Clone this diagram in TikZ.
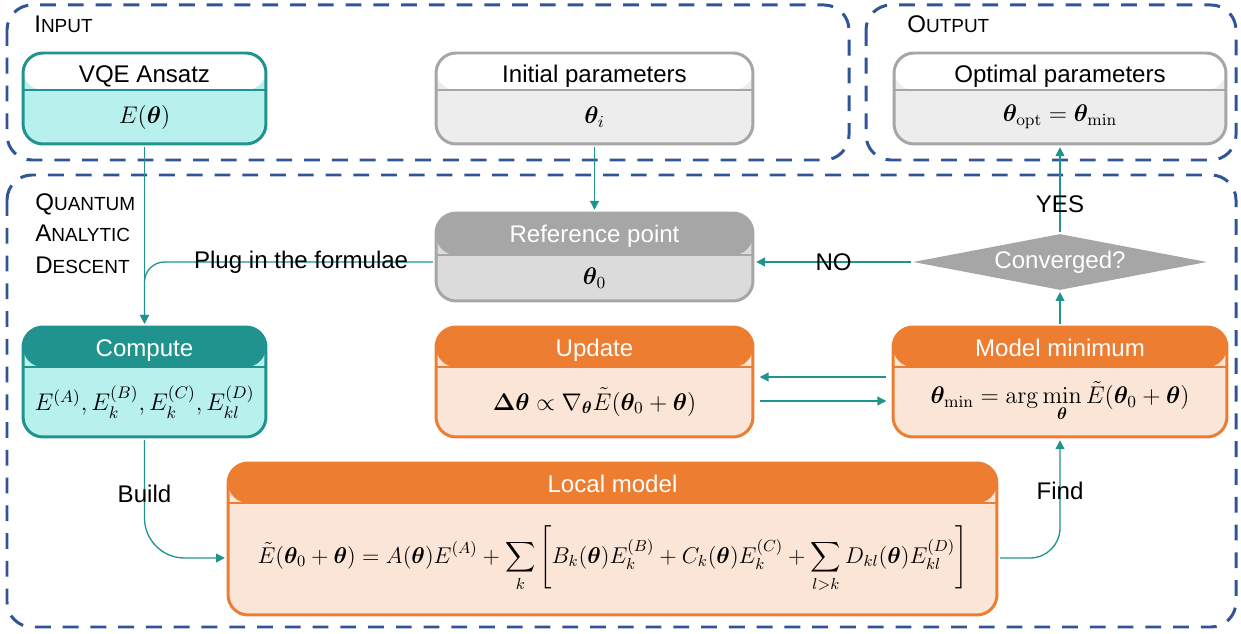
\RequirePackage{fix-cm}
\documentclass[tikz,border=0pt]{standalone}
\usepackage{amsmath,bm}
\usepackage[no-math]{fontspec}
\setmainfont{Liberation Sans}
\usetikzlibrary{arrows.meta,shapes.geometric,positioning}

\definecolor{qblue}{HTML}{2F5597}
\definecolor{qteal}{HTML}{20938F}
\definecolor{qcyan}{HTML}{B8F0EE}
\definecolor{qgray}{HTML}{A6A6A6}
\definecolor{qlight}{HTML}{EDEDED}
\definecolor{qmid}{HTML}{DBDBDB}
\definecolor{qorange}{HTML}{ED7D31}
\definecolor{qpeach}{HTML}{FBE5D6}

\newcommand{\fsc}[2]{#1{\fontsize{10.8}{12}\selectfont#2}}

\tikzset{
  group/.style={draw=qblue, line width=1.7pt, dash pattern=on 9pt off 6.8pt, rounded corners=0.5cm},
  stage/.style n args={4}{rectangle, rounded corners=0.4cm, draw=#1, line width=1.7pt, fill=#3, inner sep=0pt,
    path picture={\fill[#2] (path picture bounding box.north west) rectangle ([yshift=-#4]path picture bounding box.north east);
      \draw[#1, line width=1.7pt] ([yshift=-#4]path picture bounding box.north west) -- ([yshift=-#4]path picture bounding box.north east);}},
  title/.style={text=#1, anchor=base},
  lbl/.style={text=black, inner sep=1pt},
  conn/.style={qteal, line width=0.75pt, -{Triangle[length=5pt,width=5pt]}, shorten >=1pt, shorten <=1pt},
}

\begin{document}
\begin{tikzpicture}[x=0.02cm, y=-0.02cm, every node/.style={font=\fontsize{13.7}{18}\selectfont}]
  \useasboundingbox (0,0) rectangle (1241,634);

  % Groups
  \draw[group] (7,5) rectangle (849,160);
  \draw[group] (866,5) rectangle (1236,160);
  \draw[group] (7,175) rectangle (1236,627);
  \node[anchor=base west, inner sep=0pt] (inT) at (34,33) {\fsc{I}{NPUT}};
  \node[anchor=base west, inner sep=0pt] (outT) at (907,33) {\fsc{O}{UTPUT}};
  \node[anchor=north west, inner sep=0pt, align=left] (qadT) at (35,193) {\fsc{Q}{UANTUM}\\ \fsc{A}{NALYTIC}\\ \fsc{D}{ESCENT}};

  % Input
  \node[stage={qteal}{white}{qcyan}{0.74cm}, minimum width=4.86cm, minimum height=1.82cm] (vqe) at (144.5,98.5) {};
  \node[title=black] (vqeT) at (144.5,83) {VQE Ansatz};
  \node (vqeB) at (144.5,117) {$E(\bm{\theta})$};

  \node[stage={qgray}{white}{qlight}{0.74cm}, minimum width=6.34cm, minimum height=1.82cm] (init) at (594.5,98.5) {};
  \node[title=black] (initT) at (594.5,83) {Initial parameters};
  \node (initB) at (594.5,117) {$\bm{\theta}_i$};

  % Output
  \node[stage={qgray}{white}{qlight}{0.74cm}, minimum width=6.64cm, minimum height=1.82cm] (opt) at (1060,98.5) {};
  \node[title=black] (optT) at (1060,83) {Optimal parameters};
  \node (optB) at (1060,117) {$\bm{\theta}_{\mathrm{opt}} = \bm{\theta}_{\min}$};

  % Quantum analytic descent
  \node[stage={qgray}{qgray}{qmid}{0.84cm}, minimum width=6.34cm, minimum height=1.76cm] (ref) at (594.5,257) {};
  \node[title=white] (refT) at (594.5,243) {Reference point};
  \node (refB) at (594.5,278) {$\bm{\theta}_0$};

  \node[diamond, aspect=5.25, fill=qgray, text=white, inner sep=0pt, minimum width=5.88cm, minimum height=1.12cm] (conv) at (1060,262) {Converged?};

  \node[stage={qteal}{qteal}{qcyan}{0.8cm}, minimum width=4.86cm, minimum height=2.2cm] (comp) at (144.5,382) {};
  \node[title=white] (compT) at (144.5,357) {Compute};
  \node (compB) at (144.5,402) {$E^{(A)}, E_k^{(B)}, E_k^{(C)}, E_{kl}^{(D)}$};

  \node[stage={qorange}{qorange}{qpeach}{0.8cm}, minimum width=6.34cm, minimum height=2.2cm] (upd) at (594.5,382) {};
  \node[title=white] (updT) at (594.5,357) {Update};
  \node (updB) at (594.5,402) {$\bm{\Delta\theta} \propto \nabla_{\bm{\theta}}\tilde{E}(\bm{\theta}_0+\bm{\theta})$};

  \node[stage={qorange}{qorange}{qpeach}{0.8cm}, minimum width=6.68cm, minimum height=2.2cm] (mmin) at (1060,382) {};
  \node[title=white] (mminT) at (1060,357) {Model minimum};
  \node (mminB) at (1060,402) {$\displaystyle \bm{\theta}_{\min} = \arg\min_{\bm{\theta}} \tilde{E}(\bm{\theta}_0+\bm{\theta})$};

  \node[stage={qorange}{qorange}{qpeach}{0.8cm}, minimum width=15.38cm, minimum height=3.04cm] (local) at (612.5,539) {};
  \node[title=white] (localT) at (612.5,493) {Local model};
  \node[font=\fontsize{13}{16}\selectfont] (localB) at (612.5,559) {$\displaystyle \tilde{E}(\bm{\theta}_0+\bm{\theta}) = A(\bm{\theta})E^{(A)} + \sum_k \left[ B_k(\bm{\theta})E_k^{(B)} + C_k(\bm{\theta})E_k^{(C)} + \sum_{l>k} D_{kl}(\bm{\theta})E_{kl}^{(D)} \right]$};

  % Connectors
  \draw[conn] (vqe.south) -- (comp.north);
  \draw[conn, rounded corners=0.4cm] (ref.west |- conv.west) -| node[lbl, pos=0.23] (plugL) {Plug in the formulae} (comp.north);
  \draw[conn] (init.south) -- (ref.north);
  \draw[conn] (conv.west) -- node[lbl] (noL) {NO} (ref.east |- conv.west);
  \draw[conn] (conv.north) -- node[lbl, pos=0.33] (yesL) {YES} (opt.south);
  \draw[conn] (mmin.north) -- (conv.south);
  \draw[conn, shorten >=3pt, shorten <=3pt] ([yshift=0.1cm]mmin.west) -- ([yshift=0.1cm]upd.east);
  \draw[conn, shorten >=3pt, shorten <=3pt] ([yshift=-0.38cm]upd.east) -- ([yshift=-0.38cm]mmin.west);
  \draw[conn, rounded corners=0.8cm] (comp.south) |- node[lbl, pos=0.23] (buildL) {Build} ([yshift=-0.38cm]local.west);
  \draw[conn, rounded corners=0.6cm] ([yshift=-0.38cm]local.east) -| node[lbl, pos=0.78] (findL) {Find} (mmin.south);
\end{tikzpicture}
\end{document}
